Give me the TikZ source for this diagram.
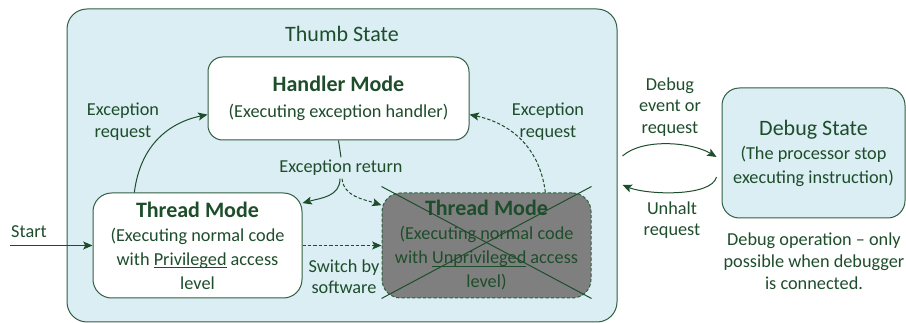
\documentclass[tikz,border=0pt]{standalone}
\usepackage{fontspec}
\setmainfont{Carlito}
\usetikzlibrary{arrows.meta,calc}
\definecolor{tsfill}{HTML}{DAEEF3}
\definecolor{dk}{HTML}{1E4D2B}
\definecolor{ln}{HTML}{2F5F40}
\definecolor{grayfill}{HTML}{7F7F7F}
\newcommand{\hd}[1]{{\fontsize{16.5}{18}\selectfont\bfseries #1}}
\newcommand{\ulx}[1]{\setbox0\hbox{#1}\rlap{\rule[-2.2pt]{\wd0}{0.7pt}}\box0\relax}
\begin{document}
\begin{tikzpicture}[x=0.75pt,y=-0.75pt,
  every node/.style={text=dk, font=\fontsize{13.7}{18}\selectfont},
  modebox/.style={draw=ln, line width=0.75pt, align=center, inner sep=0pt},
  lbl/.style={align=center, inner sep=0pt, font=\fontsize{13.7}{16}\selectfont},
  arr/.style={draw=dk, line width=0.75pt, -{Stealth[length=7pt,width=6pt,inset=1.5pt]}},
  dsh/.style={dash pattern=on 2.5pt off 1.5pt},
  plain/.style={draw=dk, line width=0.75pt}
]
\useasboundingbox (0,0) rectangle (906,323);
% Thumb state container
\node[modebox, fill=tsfill, rounded corners=15pt, minimum width=412.5pt, minimum height=234.75pt] (ts) at (342,165.5) {};
\node[inner sep=0pt, font=\fontsize{16.5}{18}\selectfont] (tst) at (342,34) {Thumb State};
% Handler mode
\node[modebox, fill=white, rounded corners=11pt, minimum width=195.75pt, minimum height=62.25pt] (hm) at (338.5,98.5)
  {\hd{Handler Mode}\\[1.5pt](Executing exception handler)};
% Thread mode privileged
\node[modebox, fill=white, rounded corners=14pt, minimum width=156.75pt, minimum height=78.75pt] (tl) at (197.5,245.5)
  {\hd{Thread Mode}\\(Executing normal code\\with \ulx{Privileged} access\\level};
% Thread mode unprivileged
\node[modebox, dsh, fill=grayfill, rounded corners=14pt, minimum width=156.75pt, minimum height=78.75pt] (gr) at (486.5,245.5)
  {\hd{Thread Mode}\\(Executing normal code\\with \ulx{Unprivileged} access\\level)};
\draw[plain] ([yshift=4.5pt]gr.north west) -- (gr.south east);
\draw[plain] ([yshift=4.5pt]gr.north east) -- (gr.south west);
% Debug state
\node[modebox, fill=tsfill, rounded corners=13pt, minimum width=137.25pt, minimum height=97.5pt] (ds) at (813.5,153)
  {{\fontsize{16.5}{18}\selectfont Debug State}\\(The processor stop\\executing instruction)};
% labels
\node[lbl] (erl) at (123,121.5) {Exception\\request};
\node[lbl] (err) at (548,121.5) {Exception\\request};
\node[lbl, inner sep=2pt] (ex) at (341,168) {Exception return};
\node[lbl] (stl) at (29,232) {Start};
\node[lbl] (sw) at (344,277) {Switch by\\software};
\node[lbl] (dbe) at (670,107) {Debug\\event or\\request};
\node[lbl] (unh) at (672,220) {Unhalt\\request};
\node[lbl, font=\fontsize{13.7}{16.5}\selectfont] (dop) at (814,261) {Debug operation -- only\\possible when debugger\\is connected.};
% connectors
\draw[arr] (tl.140) .. controls +(6,-48) and +(-38,8) .. (hm.187);
\draw[arr, dsh] (gr.42) .. controls +(-6,-48) and +(38,8) .. (hm.353);
\draw[plain] (hm.south) -- (ex.north);
\draw[arr] ([xshift=-0.75pt]ex.south) .. controls +(0,18) and +(18,-5) .. (tl.22);
\draw[arr, dsh] ([xshift=0.75pt]ex.south) .. controls +(2,18) and +(-18,-6) .. (gr.159);
\coordinate (st) at (10,245.5);
\draw[arr] (st) -- (tl.west);
\draw[arr, dsh] (tl.east) -- (gr.west);
\draw[arr] ($(ts.east |- ds.west)+(5,3)$) .. controls +(20,-18) and +(-25,-15) .. ($(ds.west)+(-5,4)$);
\draw[arr] ($(ds.west)+(-5,24)$) .. controls +(-5,20) and +(25,10) .. ($(ts.east |- ds.west)+(5,32)$);
\end{tikzpicture}
\end{document}
